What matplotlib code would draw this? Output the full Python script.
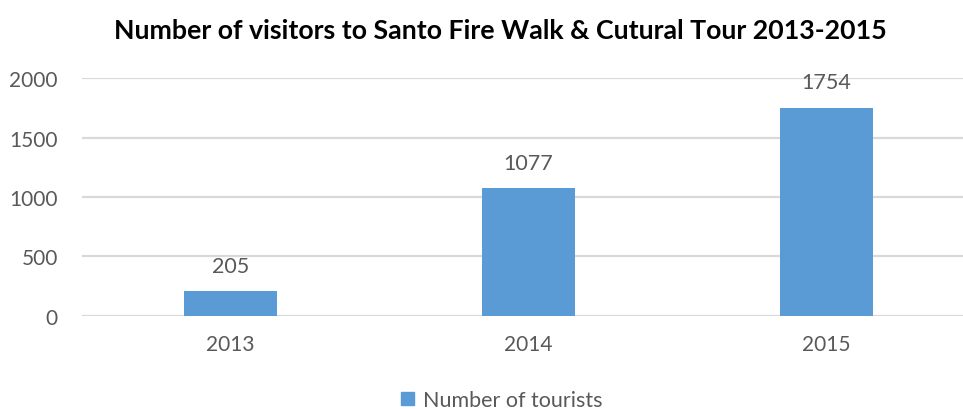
import matplotlib
matplotlib.use("Agg")
import matplotlib.pyplot as plt
from matplotlib.patches import Patch

years = ["2013", "2014", "2015"]
tourists = [205, 1077, 1754]
series_name = "Number of tourists"
title = "Number of visitors to Santo Fire Walk & Cutural Tour 2013-2015"
y_ticks = [0, 500, 1000, 1500, 2000]

plt.rcParams["font.family"] = ["Lato", "DejaVu Sans"]

BAR = "#5B9BD5"
GRID = "#D9D9D9"
TXT = "#595959"

fig = plt.figure(figsize=(9.63, 4.10), dpi=100)
W, H = 963, 410
x0, x1 = 81.5, 975.5
y_bot, y_top = 316.7, 79.3
ax = fig.add_axes([x0 / W, 1 - y_bot / H, (x1 - x0) / W, (y_bot - y_top) / H])

xs = range(len(years))
ax.bar(xs, tourists, width=0.31, color=BAR, zorder=3)
ax.set_xlim(-0.5, len(years) - 0.5)
ax.set_ylim(0, 2000)
ax.set_yticks(y_ticks)
ax.set_xticks(list(xs))
ax.set_xticklabels(years)
ax.yaxis.grid(True, color=GRID, linewidth=1.6, zorder=0)
ax.set_axisbelow(True)
for s in ax.spines.values():
    s.set_visible(False)
ax.tick_params(axis="both", length=0, labelsize=15, labelcolor=TXT)
ax.tick_params(axis="y", pad=17)
ax.tick_params(axis="x", pad=13)

for x, v in zip(xs, tourists):
    ax.annotate(str(v), (x, v), xytext=(0, 11), textcoords="offset points",
                ha="center", va="bottom", fontsize=15.5, color=TXT)

fig.text(500 / W, 1 - 31 / H, title, ha="center", va="center",
         fontsize=19.3, fontweight="bold", color="black")

fig.legend(handles=[Patch(color=BAR, label=series_name)],
           loc="center", bbox_to_anchor=(502 / W, 1 - 401 / H),
           frameon=False, fontsize=15.5, handlelength=0.6, handleheight=0.6,
           handletextpad=0.4, labelcolor=TXT)

fig.savefig("out.png", dpi=100)
